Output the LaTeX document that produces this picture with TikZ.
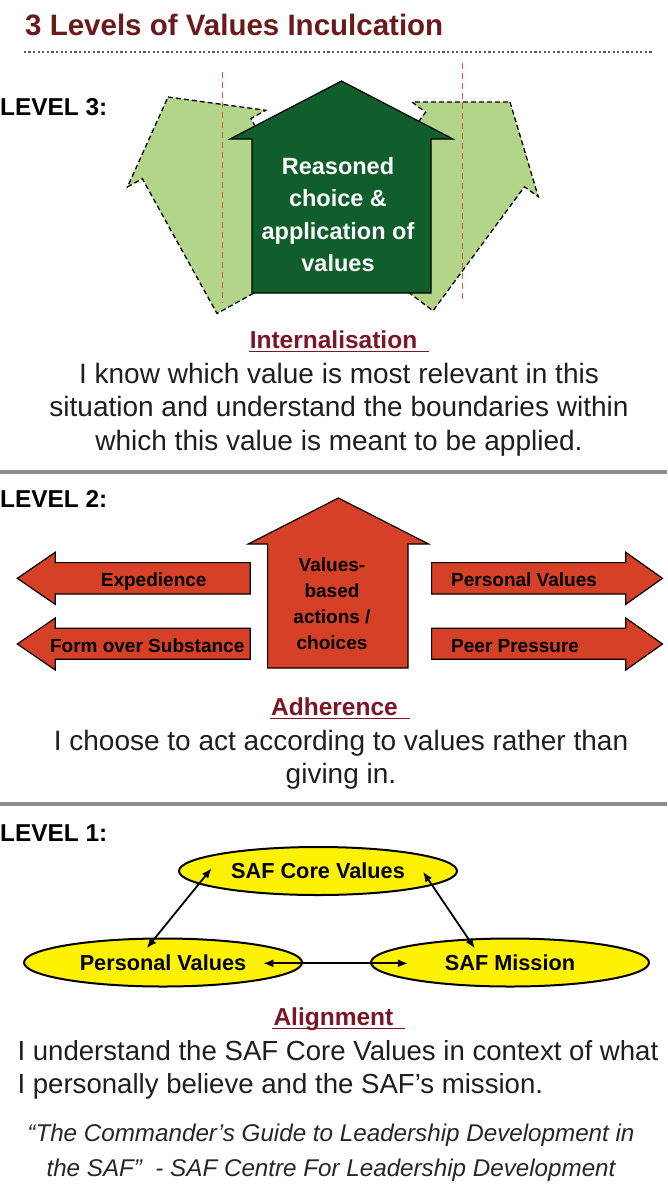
\documentclass[tikz,border=0pt]{standalone}
\usepackage{fontspec}
\setmainfont{Liberation Sans}
\usepackage{tikz}
\usetikzlibrary{arrows.meta, positioning, calc, shapes.geometric}
\definecolor{TitleRed}{RGB}{107, 26, 28}
\definecolor{HeadRed}{RGB}{125, 22, 36}
\definecolor{LeafGreen}{RGB}{178, 213, 138}
\definecolor{DeepGreen}{RGB}{16, 94, 44}
\definecolor{BrickRed}{RGB}{214, 64, 38}
\definecolor{EllYellow}{RGB}{255, 242, 0}
\definecolor{RuleGray}{RGB}{140, 140, 140}
\definecolor{DotGray}{RGB}{90, 90, 90}
\definecolor{GuideRed}{RGB}{232, 84, 56}
\definecolor{InkGray}{RGB}{30, 30, 30}

\begin{document}
\begin{tikzpicture}[x=1pt, y=-1pt,
  lvl/.style={anchor=base west, inner sep=0, font=\fontsize{24.4}{28}\selectfont\bfseries},
  hd/.style={anchor=base, inner sep=0, text=HeadRed, font=\fontsize{24.5}{28}\selectfont\bfseries},
  ul/.style={HeadRed, line width=1.6pt},
  body/.style={anchor=base, inner sep=0, align=center, text=InkGray, font=\fontsize{28}{33.5}\selectfont},
  sep/.style={RuleGray, line width=3.5pt},
  blk/.style={draw=black, line width=1.2pt, line join=miter},
  ghost/.style={draw=black, fill=LeafGreen, line width=1.3pt, dash pattern=on 5pt off 3pt},
  guide/.style={GuideRed, line width=1pt, dash pattern=on 6pt off 4pt},
  lbl/.style={inner sep=0, font=\fontsize{19}{26}\selectfont\bfseries},
  oval/.style={ellipse, draw=black, fill=EllYellow, line width=2pt,
               minimum width=278pt, minimum height=48pt, inner sep=0,
               font=\fontsize{21.7}{24}\selectfont\bfseries},
  link/.style={{Latex[length=10pt,width=8pt]}-{Latex[length=10pt,width=8pt]}, line width=1.8pt}
]
  \useasboundingbox (0,0) rectangle (667,1200);
  \fill[white] (0,0) rectangle (667,1200);

  \node[anchor=base west, inner sep=0, text=TitleRed,
        font=\fontsize{29.5}{32}\selectfont\bfseries] (title) at (25,35) {3 Levels of Values Inculcation};
  \draw[DotGray, line width=2pt, dash pattern=on 2.3pt off 2.3pt] (23.7,52) -- (651.7,52);

  % level 3
  \node[lvl] (l3) at (0,115) {LEVEL 3:};
  \draw[ghost] (168,97) -- (265.7,110.3) -- (250.9,118.5) -- (325.6,253.3) -- (217,313.5)
               -- (142.3,178.7) -- (127.5,186.9) -- cycle;
  \draw[ghost] (510,102) -- (538.3,196.7) -- (524.4,186.8) -- (433,310.8) -- (334,236)
               -- (425.6,112.2) -- (412,102) -- cycle;
  \draw[guide] (222,72) -- (222,303);
  \draw[guide] (462,63) -- (462,303);
  \draw[blk, fill=DeepGreen] (341.5,81) -- (453,139) -- (431,139) -- (431,293) -- (252,293)
                             -- (252,139) -- (230,139) -- cycle;
  \node[anchor=base, inner sep=0, align=center, text=white,
        font=\fontsize{23.5}{32.5}\selectfont\bfseries] (reason) at (338,271.7)
        {Reasoned\\choice \&\\application of\\values};
  \node[hd] (intern) at (333.5,348) {Internalisation};
  \draw[ul] ([xshift=-1pt,yshift=-3.5pt]intern.base west) -- ([xshift=12pt,yshift=-3.5pt]intern.base east);
  \node[body] (intxt) at (339,450) {I know which value is most relevant in this\\situation and understand the boundaries within\\which this value is meant to be applied.};
  \draw[sep] (0,472) -- (667,472);

  % level 2
  \node[lvl] (l2) at (0,507.3) {LEVEL 2:};
  \draw[blk, fill=BrickRed] (338.4,498) -- (428.6,544) -- (408,544) -- (408,668) -- (267.6,668)
                            -- (267.6,544) -- (248.2,544) -- cycle;
  \draw[blk, fill=BrickRed] (17.3,578.3) -- (55.2,552.3) -- (55.2,562.6) -- (250.3,562.6)
                            -- (250.3,594) -- (55.2,594) -- (55.2,604.3) -- cycle;
  \draw[blk, fill=BrickRed] (17.3,644) -- (55.2,618) -- (55.2,628.3) -- (250.3,628.3)
                            -- (250.3,659.3) -- (55.2,659.3) -- (55.2,670) -- cycle;
  \draw[blk, fill=BrickRed] (662.5,578.3) -- (625.8,552.3) -- (625.8,562.6) -- (431.6,562.6)
                            -- (431.6,594) -- (625.8,594) -- (625.8,604.3) -- cycle;
  \draw[blk, fill=BrickRed] (662.5,644) -- (625.8,618) -- (625.8,628.3) -- (431.6,628.3)
                            -- (431.6,659.3) -- (625.8,659.3) -- (625.8,670) -- cycle;
  \node[lbl, anchor=base] (exped) at (153.7,586) {Expedience};
  \node[lbl, anchor=base] (form) at (147.2,652) {Form over Substance};
  \node[lbl, anchor=base west] (persv) at (451,586) {Personal Values};
  \node[lbl, anchor=base west] (peer) at (451,652) {Peer Pressure};
  \node[lbl, anchor=base, align=center] (vbased) at (332,649.5) {Values-\\based\\actions /\\choices};
  \node[hd] (adher) at (334.5,715) {Adherence};
  \draw[ul] ([xshift=-1pt,yshift=-3.5pt]adher.base west) -- ([xshift=12pt,yshift=-3.5pt]adher.base east);
  \node[body] (adtxt) at (341,783.5) {I choose to act according to values rather than\\giving in.};
  \draw[sep] (0,804) -- (667,804);

  % level 1
  \node[lvl] (l1) at (0,841.7) {LEVEL 1:};
  \node[oval] (core) at (318,871) {SAF Core Values};
  \node[oval] (pers) at (163,962.5) {Personal Values};
  \node[oval] (miss) at (510,962.5) {SAF Mission};
  \coordinate (cpA) at ($(core)+(-106.5,-2.7)$);
  \coordinate (cpB) at ($(pers)+(-16.3,-14.2)$);
  \coordinate (cmA) at ($(core)+(105,0.7)$);
  \coordinate (cmB) at ($(miss)+(-35.2,-14.2)$);
  \coordinate (pmA) at ($(pers)+(100.3,0.8)$);
  \coordinate (pmB) at ($(miss)+(-102.1,0.8)$);
  \draw[link] (cpA) -- (cpB);
  \draw[link] (cmA) -- (cmB);
  \draw[link] (pmA) -- (pmB);
  \node[hd] (alig) at (333.4,1025) {Alignment};
  \draw[ul] ([xshift=-1pt,yshift=-3.5pt]alig.base west) -- ([xshift=12pt,yshift=-3.5pt]alig.base east);
  \node[anchor=base west, inner sep=0, align=left, text=InkGray,
        font=\fontsize{27.6}{33.3}\selectfont] (altxt) at (17.3,1093.3)
        {I understand the SAF Core Values in context of what\\I personally believe and the SAF’s mission.};
  \node[anchor=base, inner sep=0, align=center, text=black!85,
        font=\fontsize{24.2}{35}\selectfont\itshape] (quote) at (331,1176.7)
        {“The Commander’s Guide to Leadership Development in\\the SAF”\ \ - SAF Centre For Leadership Development};
\end{tikzpicture}
\end{document}
